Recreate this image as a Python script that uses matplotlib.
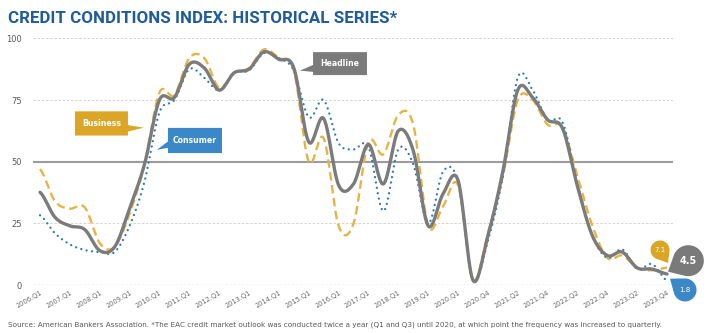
import numpy as np
import matplotlib
matplotlib.use("Agg")
import matplotlib.pyplot as plt
import matplotlib.transforms as mtransforms
from matplotlib.patches import Polygon

# ---------------------------------------------------------------- data
periods = [
    "2006.Q1", "2006.Q3", "2007.Q1", "2007.Q3", "2008.Q1", "2008.Q3",
    "2009.Q1", "2009.Q3", "2010.Q1", "2010.Q3", "2011.Q1", "2011.Q3",
    "2012.Q1", "2012.Q3", "2013.Q1", "2013.Q3", "2014.Q1", "2014.Q3",
    "2015.Q1", "2015.Q3", "2016.Q1", "2016.Q3", "2017.Q1", "2017.Q3",
    "2018.Q1", "2018.Q3", "2019.Q1", "2019.Q3", "2020.Q1", "2020.Q3",
    "2020.Q4", "2021.Q1", "2021.Q2", "2021.Q3", "2021.Q4", "2022.Q1",
    "2022.Q2", "2022.Q3", "2022.Q4", "2023.Q1", "2023.Q2", "2023.Q3",
    "2023.Q4",
]

headline = [37.6, 27.5, 24.0, 22.5, 14.0, 15.5, 31.0, 49.0, 75.0, 76.0,
            89.5, 88.0, 79.0, 86.0, 87.5, 94.5, 91.5, 88.0, 58.0, 67.5,
            40.5, 41.0, 57.0, 41.0, 62.5, 54.5, 24.0, 37.0, 42.5, 2.0,
            20.0, 46.0, 79.0, 76.0, 67.0, 63.5, 40.0, 20.0, 12.0, 13.4,
            7.0, 6.5, 4.5]

business = [47.0, 34.0, 31.0, 31.5, 17.0, 15.5, 29.0, 49.0, 78.0, 77.0,
            92.0, 92.0, 80.0, 86.0, 88.0, 95.5, 92.0, 87.0, 50.0, 59.5,
            24.0, 25.0, 58.0, 53.0, 69.0, 65.0, 24.0, 32.0, 40.5, 2.0,
            21.0, 44.0, 75.0, 75.0, 65.0, 64.0, 44.0, 24.0, 11.0, 12.0,
            7.0, 6.0, 7.1]

consumer = [28.3, 21.0, 16.5, 14.2, 13.4, 13.4, 24.0, 42.0, 70.0, 75.0,
            87.5, 84.0, 79.0, 86.0, 87.0, 94.0, 92.0, 87.0, 68.0, 75.0,
            57.5, 55.0, 56.0, 30.0, 55.0, 49.0, 25.0, 46.0, 42.0, 2.0,
            18.0, 44.0, 84.0, 79.0, 67.0, 66.0, 41.0, 20.0, 11.0, 14.5,
            6.5, 8.5, 1.8]

tick_labels = periods[::2]
y_ticks = [0, 25, 50, 75, 100]

C_HEAD = "#7b7b7b"
C_BUS = "#e6b446"
C_BUS_BOX = "#dba626"
C_CON = "#2f79bb"
C_CON_BOX = "#3b88c8"
C_TITLE = "#1f5c99"
C_TEXT = "#595959"


def smooth(values, n=24):
    """Catmull-Rom curve through the points (same idea as a smoothed line)."""
    y = np.asarray(values, float)
    p = np.concatenate([[y[0]], y, [y[-1]]])
    xs, ys = [], []
    t = np.linspace(0, 1, n, endpoint=False)
    h00 = 2 * t**3 - 3 * t**2 + 1
    h10 = t**3 - 2 * t**2 + t
    h01 = -2 * t**3 + 3 * t**2
    h11 = t**3 - t**2
    for i in range(len(y) - 1):
        p0, p1, p2, p3 = p[i], p[i + 1], p[i + 2], p[i + 3]
        m1 = (p2 - p0) / 2
        m2 = (p3 - p1) / 2
        xs.append(i + t)
        ys.append(h00 * p1 + h10 * m1 + h01 * p2 + h11 * m2)
    xs.append([len(y) - 1])
    ys.append([y[-1]])
    return np.concatenate(xs), np.concatenate(ys)


fig = plt.figure(figsize=(7.08, 3.33), dpi=100)
ax = fig.add_axes([33 / 708, 1 - 285.1 / 333, 640 / 708, (285.1 - 38.3) / 333])

# reference lines
for v in (25, 75, 100):
    ax.axhline(v, color="#cdcdcd", lw=0.6, ls=(0, (3, 2)), zorder=0)
ax.axhline(0, color="#bdbdbd", lw=1.0, ls=(0, (2, 1)), zorder=0)
ax.axhline(50, color="#9c9c9c", lw=1.5, zorder=0)

# series
bx, by = smooth(business)
ax.plot(bx, by, color=C_BUS, lw=1.7, ls=(0, (3.6, 1.9)), zorder=2,
        solid_capstyle="butt")
cx_, cy_ = smooth(consumer)
ax.plot(cx_, cy_, color=C_CON, lw=1.7, ls=(0, (0.01, 2.3)),
        dash_capstyle="round", zorder=3)
hx, hy = smooth(headline)
ax.plot(hx, hy, color=C_HEAD, lw=2.4, zorder=4, solid_capstyle="round")

# axes styling
for s in ax.spines.values():
    s.set_visible(False)
ax.set_yticks(y_ticks)
ax.set_yticklabels([str(v) for v in y_ticks])
ax.tick_params(axis="y", length=0, pad=8, labelsize=6, labelcolor=C_TEXT)
ax.set_xticks(range(0, len(periods), 2))
ax.set_xticklabels(tick_labels)
ax.tick_params(axis="x", length=0, pad=3, labelsize=4.8, labelcolor="#6a6a6a")
for lbl in ax.get_xticklabels():
    lbl.set_rotation(30)
    lbl.set_ha("right")
    lbl.set_rotation_mode("anchor")


# callout boxes
def callout(verts, color, text, center):
    ax.add_patch(Polygon(verts, closed=True, facecolor=color, edgecolor="none",
                         zorder=6))
    ax.text(center[0], center[1], text, color="white", fontsize=5.6,
            fontweight="bold", ha="center", va="center", zorder=7)


callout([(2.34, 60.6), (5.89, 60.6), (5.89, 62.2), (6.95, 63.8),
         (5.89, 64.8), (5.89, 70.4), (2.34, 70.4)],
        C_BUS_BOX, "Business", (4.12, 65.5))
callout([(8.57, 53.5), (12.19, 53.5), (12.19, 63.7), (8.57, 63.7),
         (8.57, 58.2), (7.82, 54.8), (8.57, 55.6)],
        C_CON_BOX, "Consumer", (10.38, 58.6))
callout([(18.29, 85.1), (21.9, 85.1), (21.9, 94.4), (18.29, 94.4),
         (18.29, 89.2), (17.41, 86.9), (18.29, 86.4)],
        C_HEAD, "Headline", (20.1, 89.75))


# end-of-series value bubbles (offsets in pixels from the last point)
def bubble(series, color, center, radius, tip, fs, bold=False):
    xd, yd = len(series) - 1, series[-1]
    cxp, cyp = center
    txp, typ = tip
    d = np.hypot(txp - cxp, typ - cyp)
    phi = np.arctan2(typ - cyp, txp - cxp)
    a = np.arccos(radius / d)
    th = np.linspace(phi + a, phi - a + 2 * np.pi, 80)
    verts = [(txp, typ)] + list(zip(cxp + radius * np.cos(th),
                                    cyp + radius * np.sin(th)))
    trans = mtransforms.IdentityTransform() + \
        mtransforms.ScaledTranslation(xd, yd, ax.transData)
    patch = Polygon(verts, closed=True, facecolor=color, edgecolor="none",
                    transform=trans, zorder=8, clip_on=False)
    ax.add_artist(patch)
    ax.annotate(f"{yd:.1f}", xy=(xd, yd), xytext=(cxp * 0.72, cyp * 0.72),
                textcoords="offset points", ha="center", va="center",
                color="white", fontsize=fs,
                fontweight="bold" if bold else "normal", zorder=9,
                annotation_clip=False)


bubble(business, C_BUS_BOX, (-7, 17.6), 9.5, (1, 4.6), 5)
bubble(headline, "#7a7a7a", (21.3, 13.3), 15.5, (1, 2.3), 7, bold=True)
bubble(consumer, C_CON_BOX, (18, -9.3), 11.5, (3, 2.0), 5)

ax.set_xlim(-0.47, 42.4)
ax.set_ylim(0, 100)

fig.text(8 / 708, 1 - 23 / 333, "CREDIT CONDITIONS INDEX: HISTORICAL SERIES*",
         family=["Roboto", "DejaVu Sans"], fontsize=12.2,
         fontweight="bold", color=C_TITLE, va="baseline", ha="left")
fig.text(8 / 708, 1 - 326 / 333,
         "Source: American Bankers Association. *The EAC credit market outlook "
         "was conducted twice a year (Q1 and Q3) until 2020, at which point the "
         "frequency was increased to quarterly.",
         fontsize=5.2, color=C_TEXT, va="baseline", ha="left")

fig.savefig("out.png", dpi=100)
